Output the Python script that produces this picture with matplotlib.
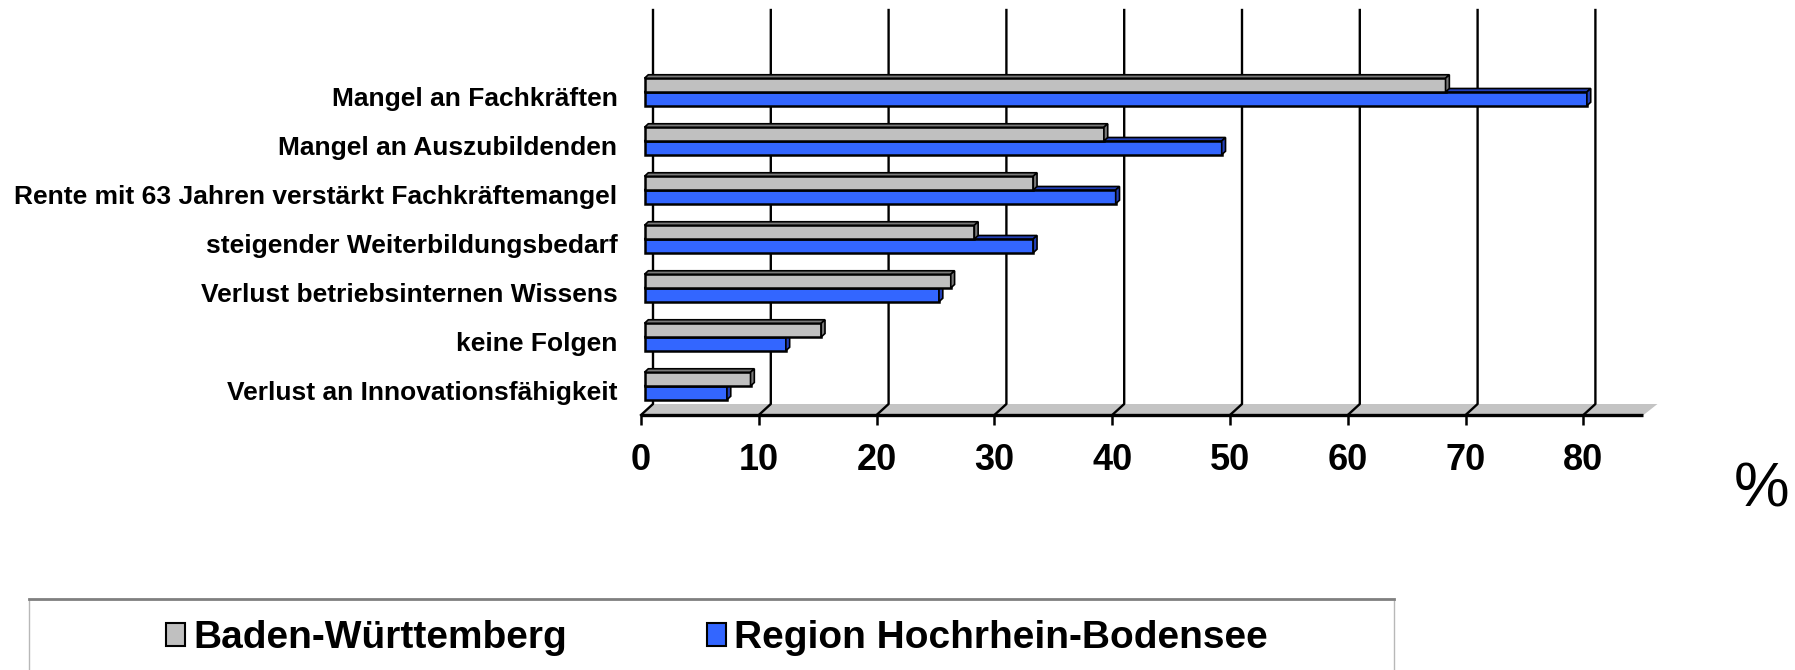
import matplotlib
matplotlib.use('Agg')
import matplotlib.pyplot as plt
import matplotlib.transforms as mtransforms
from matplotlib.patches import Polygon, Rectangle, Patch
from matplotlib.lines import Line2D

plt.rcParams['font.family'] = ['Liberation Sans', 'DejaVu Sans']

categories = ['Mangel an Fachkräften',
              'Mangel an Auszubildenden',
              'Rente mit 63 Jahren verstärkt Fachkräftemangel',
              'steigender Weiterbildungsbedarf',
              'Verlust betriebsinternen Wissens',
              'keine Folgen',
              'Verlust an Innovationsfähigkeit']
bw = [68, 39, 33, 28, 26, 15, 9]
region = [80, 49, 40, 33, 25, 12, 7]
ticks = [0, 10, 20, 30, 40, 50, 60, 70, 80]
series_names = ['Baden-Württemberg', 'Region Hochrhein-Bodensee']

gray_face, gray_dark = '#C0C0C0', '#7A7A7A'
blue_face, blue_dark = '#3366FF', '#2340B8'

W, H = 1795, 670
fig = plt.figure(figsize=(W / 100, H / 100), dpi=100)
xmax = 86.2
ylo, yhi = -0.592, 7.673
ax = fig.add_axes([641 / W, 255 / H, xmax * 11.78 / W, 405 / H])
ax.set_xlim(0, xmax)
ax.set_ylim(ylo, yhi)
for s in ax.spines.values():
    s.set_visible(False)

ux = ax.bbox.width / xmax          # px per value unit
uy = ax.bbox.height / (yhi - ylo)  # px per category unit

n = len(categories)
pos = [n - 1 - i for i in range(n)]

# floor of the 3d chart
depth_x, depth_y = 12 / ux, 11 / uy
floor_end = 85.1
floor = Polygon([(0, ylo), (floor_end, ylo), (floor_end + 14 / ux, ylo + depth_y),
                 (depth_x, ylo + depth_y)], closed=True, facecolor='#C4C4C4',
                edgecolor='none', zorder=1, clip_on=False)
ax.add_patch(floor)
ax.plot([0, floor_end], [ylo, ylo], color='black', lw=2.4, zorder=2, clip_on=False,
        solid_capstyle='butt')

# back wall gridlines + slanted part on the floor
for t in ticks:
    ax.plot([t, t + depth_x, t + depth_x], [ylo, ylo + depth_y, yhi], color='black',
            lw=1.7, zorder=2, clip_on=False)

# bars with top and side faces
shift = 3.5 / ux
bh = 0.28
dx, dy = 3.8 / ux, 3.5 / uy


def bar3d(y0, val, face, dark):
    x0, x1 = shift, shift + val
    y1 = y0 + bh
    ax.add_patch(Rectangle((x0, y0), val, bh, facecolor=face, edgecolor='black',
                           lw=1.8, zorder=3))
    ax.add_patch(Polygon([(x0, y1), (x1, y1), (x1 + dx, y1 + dy), (x0 + dx, y1 + dy)],
                         closed=True, facecolor=dark, edgecolor='black', lw=1.2, zorder=3))
    ax.add_patch(Polygon([(x1, y0), (x1, y1), (x1 + dx, y1 + dy), (x1 + dx, y0 + dy)],
                         closed=True, facecolor=dark, edgecolor='black', lw=1.2, zorder=3))


for p, v_bw, v_rg in zip(pos, bw, region):
    bar3d(p - bh, v_rg, blue_face, blue_dark)
    bar3d(p, v_bw, gray_face, gray_dark)

ax.set_xticks(ticks)
ax.set_xticklabels([str(t) for t in ticks], fontsize=26, fontweight='bold')
ax.tick_params(axis='x', length=7.5, width=1.8, pad=13)
ax.set_yticks(pos)
ax.set_yticklabels(categories, fontsize=19, fontweight='bold')
ax.tick_params(axis='y', length=0, pad=17)
down = mtransforms.ScaledTranslation(0, -4.5 / 100, fig.dpi_scale_trans)
for lab in ax.get_yticklabels():
    lab.set_transform(lab.get_transform() + down)

fig.text(1762 / W, 1 - 490 / H, '%', fontsize=45, ha='center', va='center')

# legend box
box = Rectangle((28.6 / W, -0.05), (1394 - 28.6) / W, (670 - 599) / H + 0.05,
                transform=fig.transFigure, facecolor='white', edgecolor='#B8B8B8', lw=1.0)
fig.patches.append(box)
fig.lines.append(Line2D([28.6 / W, 1394 / W], [1 - 599 / H, 1 - 599 / H],
                        transform=fig.transFigure, color='#808080', lw=2))

handles = [Patch(facecolor=gray_face, edgecolor='black', lw=1.5),
           Patch(facecolor=blue_face, edgecolor='black', lw=1.5)]
fig.legend(handles, series_names, loc='center left', bbox_to_anchor=(166 / W, 1 - 638 / H),
           ncol=2, frameon=False, prop={'size': 28, 'weight': 'bold'},
           handlelength=0.48, handleheight=0.55, handletextpad=0.22, columnspacing=3.6,
           borderpad=0, borderaxespad=0)

fig.savefig('out.png', dpi=100)
